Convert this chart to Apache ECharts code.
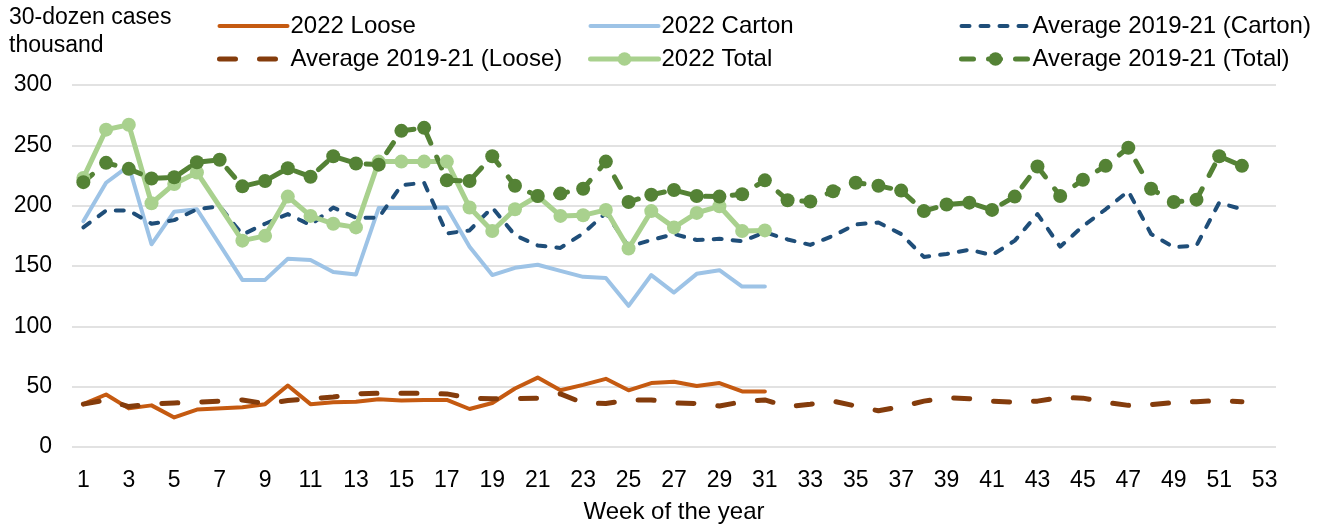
<!DOCTYPE html>
<html>
<head>
<meta charset="utf-8">
<script src="https://cdn.jsdelivr.net/npm/echarts@6/dist/echarts.min.js"></script>
<style>html,body{margin:0;padding:0;background:#fff;}#c{width:1326px;height:529px;}</style>
</head>
<body>
<div id="c"></div>
<script>
var weeks = [];
for (var i = 1; i <= 53; i++) weeks.push(String(i));

var yTicks = [0, 50, 100, 150, 200, 250, 300];

var loose2022 = [35.5, 43.5, 32, 34.5, 24.5, 31, null, 33, 35.5, 51, 35.5, 37, 37.5, 39.5, 38.5, 39, 39, 31.5, 36.5, 48.5, 57.5, 47, 51.5, 56.5, 47, 53, 54, 50.5, 53, 46, 46];
var carton2022 = [187, 219, 233, 168, 195, 197, null, 138.5, 138.5, 156, 155, 145, 143, 198, 198, 198, 198.5, 166, 142.5, 148.5, 151, 146, 141, 140, 117, 142.5, 128, 143.5, 146.5, 133, 133];
var total2022 = [223, 263, 267, 202, 218, 227.5, null, 171, 175, 207.5, 191.5, 185, 182, 236.5, 236.5, 236.5, 236.5, 198.5, 179, 197, 208, 191.5, 192, 196.5, 164.5, 195.5, 182, 194, 199.5, 179, 179.5];
var avgLoose = [35.5, 39, 33.5, 35.5, 36.5, 37, 38, 39, 36, 38.5, 40, 41.5, 44, 44.5, 44.5, 44.5, 44, 40.5, 40, 40, 40.5, 44, 36.5, 36, 39, 39, 36.5, 36, 34, 37.5, 39, 33.5, 35.5, 38, 34, 30, 33.5, 38, 41, 40, 38, 37, 38, 41, 40.5, 37, 34.5, 35, 37, 37.5, 38.5, 37.5];
var avgCarton = [182, 196, 196, 185, 188, 197, 199.5, 176, 185, 193, 184, 198.5, 190, 190, 217, 219, 177, 179.5, 198.5, 175.5, 167, 165, 177, 194, 166, 171.5, 176.5, 171.5, 172.5, 170.5, 178, 172, 167.5, 175, 184.5, 186, 176.5, 157.5, 160, 163.5, 159, 171, 193, 166, 183, 197, 212, 176.5, 165.5, 167, 202.5, 197];
var avgTotal = [219.5, 235.5, 230.5, 222.5, 223.5, 236, 238, 216, 220.5, 231, 224, 241, 235, 234, 262, 264.5, 221, 220.5, 241, 216.5, 208, 210, 214, 236.5, 203, 209, 213, 208, 207.5, 209.5, 221, 204.5, 203.5, 212, 219, 216.5, 212.5, 195.5, 201, 202.5, 196.5, 207.5, 232.5, 208, 221.5, 233, 248, 214, 203, 205, 241, 233];

var FONT = 'Liberation Sans, Arial, sans-serif';
var FS = 24;
var TFS = 23;

var chart = echarts.init(document.getElementById('c'), null, {renderer: 'canvas'});

function legendItem(name, width, hideSymbol) {
  var it = {name: name, lineStyle: {width: width}};
  if (hideSymbol) it.itemStyle = {opacity: 0};
  return it;
}

function legendCol(left, items) {
  return {
    orient: 'vertical', left: left, top: 9,
    itemWidth: 68, itemHeight: 17, itemGap: 9,
    textStyle: {fontFamily: FONT, fontSize: FS, color: '#000', lineHeight: 24, padding: [0, 0, 0, -2]},
    data: items
  };
}

var option = {
  animation: false,
  backgroundColor: '#fff',
  title: {
    text: '30-dozen cases\nthousand', left: 9, top: 4, padding: 0,
    textStyle: {fontFamily: FONT, fontSize: 23, fontWeight: 'normal', color: '#000', lineHeight: 28}
  },
  legend: [
    legendCol(212, [legendItem('2022 Loose', 4, true), legendItem('Average 2019-21 (Loose)', 5, true)]),
    legendCol(583, [legendItem('2022 Carton', 4, true), legendItem('2022 Total', 5, false)]),
    legendCol(954, [legendItem('Average 2019-21 (Carton)', 4, true), legendItem('Average 2019-21 (Total)', 5, false)])
  ],
  grid: {left: 72, right: 50, top: 85, bottom: 76, containLabel: false},
  xAxis: {
    type: 'category', data: weeks, boundaryGap: true,
    name: 'Week of the year', nameLocation: 'middle', nameGap: 53,
    nameTextStyle: {fontFamily: FONT, fontSize: FS, color: '#000'},
    axisLine: {show: false}, axisTick: {show: false},
    axisLabel: {interval: 1, margin: 22, fontFamily: FONT, fontSize: TFS, color: '#000'}
  },
  yAxis: {
    type: 'value', min: yTicks[0], max: yTicks[yTicks.length - 1], interval: yTicks[1] - yTicks[0],
    axisLine: {show: false}, axisTick: {show: false},
    axisLabel: {margin: 20, fontFamily: FONT, fontSize: TFS, color: '#000'},
    splitLine: {lineStyle: {color: '#D9D9D9', width: 1.5}}
  },
  series: [
    {name: '2022 Loose', type: 'line', data: loose2022, connectNulls: true, symbol: 'none',
      itemStyle: {color: '#C55A11'}, lineStyle: {color: '#C55A11', width: 4, cap: 'round', join: 'round'}},
    {name: '2022 Carton', type: 'line', data: carton2022, connectNulls: true, symbol: 'none',
      itemStyle: {color: '#9DC3E6'}, lineStyle: {color: '#9DC3E6', width: 4, cap: 'round', join: 'round'}},
    {name: 'Average 2019-21 (Carton)', type: 'line', data: avgCarton, symbol: 'none',
      itemStyle: {color: '#1F4E79'}, lineStyle: {color: '#1F4E79', width: 4, type: [8, 11], cap: 'round', join: 'round'}},
    {name: 'Average 2019-21 (Loose)', type: 'line', data: avgLoose, symbol: 'none',
      itemStyle: {color: '#843C0C'}, lineStyle: {color: '#843C0C', width: 5, type: [16, 24], cap: 'round', join: 'round'}},
    {name: '2022 Total', type: 'line', data: total2022, connectNulls: true, symbol: 'circle', symbolSize: 14,
      itemStyle: {color: '#A9D18E'}, lineStyle: {color: '#A9D18E', width: 5, cap: 'round', join: 'round'}},
    {name: 'Average 2019-21 (Total)', type: 'line', data: avgTotal, symbol: 'circle', symbolSize: 14,
      itemStyle: {color: '#548235'}, lineStyle: {color: '#548235', width: 5, type: [12, 15], cap: 'round', join: 'round'}}
  ]
};
chart.setOption(option);
</script>
</body>
</html>
